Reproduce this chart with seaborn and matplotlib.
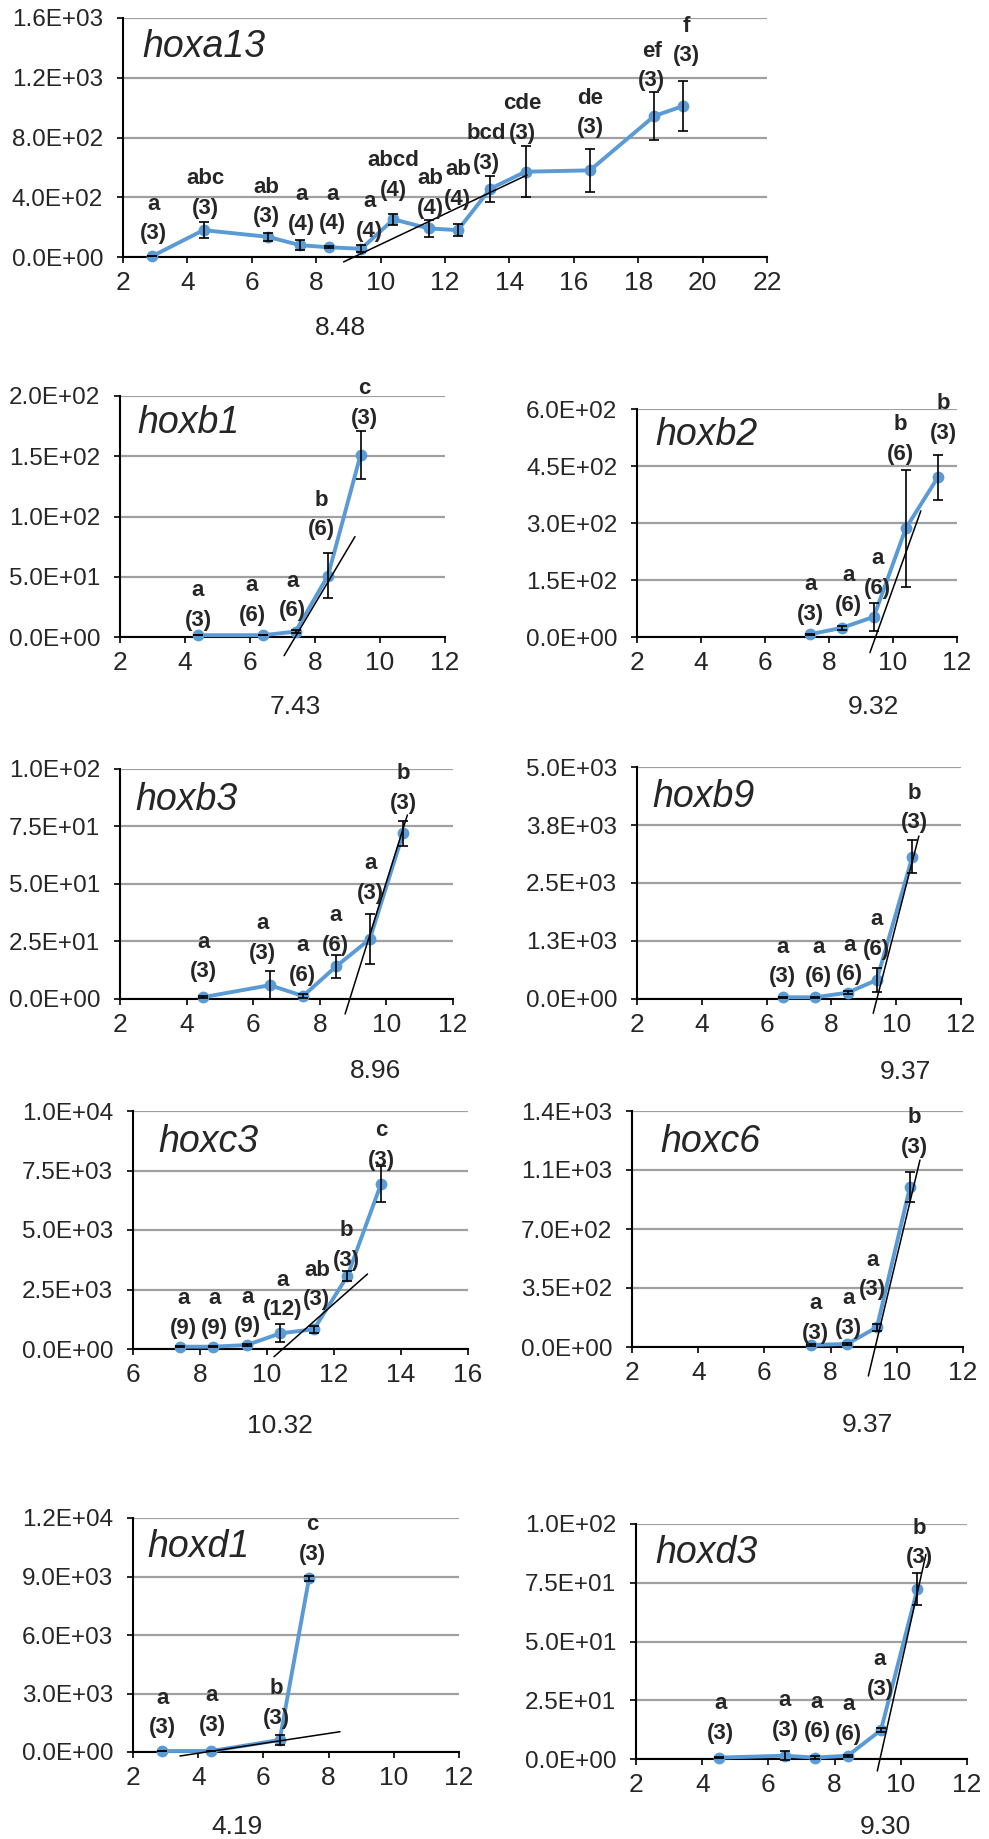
import numpy as np
import pandas as pd
import matplotlib
matplotlib.use("Agg")
import matplotlib.pyplot as plt
import seaborn as sns

# ---------------- data ----------------
hoxa13_x = [2.9, 4.5, 6.5, 7.5, 8.4, 9.4, 10.4, 11.5, 12.4, 13.4, 14.5, 16.5, 18.5, 19.4]
hoxa13_y = [5, 180, 135, 79, 65, 55, 252, 191, 180, 456, 571, 580, 944, 1011]
hoxa13_err = [0, 51, 25, 33, 8, 22, 39, 56, 42, 86, 171, 143, 161, 166]
hoxa13_let = ["a", "abc", "ab", "a", "a", "a", "abcd", "ab", "ab", "bcd", "cde", "de", "ef", "f"]
hoxa13_n = ["(3)", "(3)", "(3)", "(4)", "(4)", "(4)", "(4)", "(4)", "(4)", "(3)", "(3)", "(3)", "(3)", "(3)"]
hoxa13_tan_x = [8.85, 14.55]
hoxa13_tan_y = [-33, 549]
hoxa13_onset = 8.48

hoxb1_x = [4.4, 6.4, 7.4, 8.4, 9.4]
hoxb1_y = [1.5, 1.5, 4.5, 51, 151]
hoxb1_err = [0, 0, 1.5, 19, 20]
hoxb1_let = ["a", "a", "a", "b", "c"]
hoxb1_n = ["(3)", "(6)", "(6)", "(6)", "(3)"]
hoxb1_tan_x = [7.05, 9.23]
hoxb1_tan_y = [-15.5, 83.3]
hoxb1_onset = 7.43

hoxb2_x = [7.4, 8.4, 9.4, 10.4, 11.4]
hoxb2_y = [7, 24, 53, 286, 420]
hoxb2_err = [2, 6, 37, 154, 59]
hoxb2_let = ["a", "a", "a", "b", "b"]
hoxb2_n = ["(3)", "(6)", "(6)", "(6)", "(3)"]
hoxb2_tan_x = [9.28, 10.87]
hoxb2_tan_y = [-41, 332]
hoxb2_onset = 9.32

hoxb3_x = [4.5, 6.5, 7.5, 8.5, 9.5, 10.5]
hoxb3_y = [0.8, 6, 1.3, 14.3, 26, 72]
hoxb3_err = [0.3, 6, 1, 5, 11, 5.5]
hoxb3_let = ["a", "a", "a", "a", "a", "b"]
hoxb3_n = ["(3)", "(3)", "(6)", "(6)", "(3)", "(3)"]
hoxb3_tan_x = [8.76, 10.63]
hoxb3_tan_y = [-6.5, 80]
hoxb3_onset = 8.96

hoxb9_x = [6.5, 7.5, 8.5, 9.4, 10.5]
hoxb9_y = [37, 37, 136, 410, 3067]
hoxb9_err = [10, 10, 30, 250, 350]
hoxb9_let = ["a", "a", "a", "a", "b"]
hoxb9_n = ["(3)", "(6)", "(6)", "(6)", "(3)"]
hoxb9_tan_x = [9.29, 10.7]
hoxb9_tan_y = [-308, 3513]
hoxb9_onset = 9.37

hoxc3_x = [7.4, 8.4, 9.4, 10.4, 11.4, 12.4, 13.4]
hoxc3_y = [97, 97, 168, 660, 828, 3067, 6920]
hoxc3_err = [30, 30, 50, 380, 150, 200, 750]
hoxc3_let = ["a", "a", "a", "a", "ab", "b", "c"]
hoxc3_n = ["(9)", "(9)", "(9)", "(12)", "(3)", "(3)", "(3)"]
hoxc3_tan_x = [10.21, 13.0]
hoxc3_tan_y = [-323, 3151]
hoxc3_onset = 10.32

hoxc6_x = [7.4, 8.5, 9.4, 10.4]
hoxc6_y = [12, 18, 117, 951]
hoxc6_err = [5, 5, 20, 90]
hoxc6_let = ["a", "a", "a", "b"]
hoxc6_n = ["(3)", "(3)", "(3)", "(3)"]
hoxc6_tan_x = [9.14, 10.7]
hoxc6_tan_y = [-172, 1109]
hoxc6_onset = 9.37

hoxd1_x = [2.9, 4.4, 6.5, 7.4]
hoxd1_y = [51, 51, 615, 8900]
hoxd1_err = [20, 20, 250, 150]
hoxd1_let = ["a", "a", "b", "c"]
hoxd1_n = ["(3)", "(3)", "(3)", "(3)"]
hoxd1_tan_x = [3.44, 8.35]
hoxd1_tan_y = [-205, 1041]
hoxd1_onset = 4.19

hoxd3_x = [4.5, 6.5, 7.4, 8.4, 9.4, 10.5]
hoxd3_y = [0.6, 1.4, 0.6, 1.4, 12.3, 72.3]
hoxd3_err = [0.3, 2, 0.5, 0.5, 0.8, 6.8]
hoxd3_let = ["a", "a", "a", "a", "a", "b"]
hoxd3_n = ["(3)", "(3)", "(6)", "(6)", "(3)", "(3)"]
hoxd3_tan_x = [9.29, 10.76]
hoxd3_tan_y = [-5.1, 87.1]
hoxd3_onset = 9.30

# tick values / labels
xt_2_22 = [2, 4, 6, 8, 10, 12, 14, 16, 18, 20, 22]
xt_2_12 = [2, 4, 6, 8, 10, 12]
xt_6_16 = [6, 8, 10, 12, 14, 16]
yt_hoxa13 = [0, 400, 800, 1200, 1600]
yl_hoxa13 = ["0.0E+00", "4.0E+02", "8.0E+02", "1.2E+03", "1.6E+03"]
yt_hoxb1 = [0, 50, 100, 150, 200]
yl_hoxb1 = ["0.0E+00", "5.0E+01", "1.0E+02", "1.5E+02", "2.0E+02"]
yt_hoxb2 = [0, 150, 300, 450, 600]
yl_hoxb2 = ["0.0E+00", "1.5E+02", "3.0E+02", "4.5E+02", "6.0E+02"]
yt_hoxb3 = [0, 25, 50, 75, 100]
yl_hoxb3 = ["0.0E+00", "2.5E+01", "5.0E+01", "7.5E+01", "1.0E+02"]
yt_hoxb9 = [0, 1250, 2500, 3750, 5000]
yl_hoxb9 = ["0.0E+00", "1.3E+03", "2.5E+03", "3.8E+03", "5.0E+03"]
yt_hoxc3 = [0, 2500, 5000, 7500, 10000]
yl_hoxc3 = ["0.0E+00", "2.5E+03", "5.0E+03", "7.5E+03", "1.0E+04"]
yt_hoxc6 = [0, 350, 700, 1050, 1400]
yl_hoxc6 = ["0.0E+00", "3.5E+02", "7.0E+02", "1.1E+03", "1.4E+03"]
yt_hoxd1 = [0, 3000, 6000, 9000, 12000]
yl_hoxd1 = ["0.0E+00", "3.0E+03", "6.0E+03", "9.0E+03", "1.2E+04"]
yt_hoxd3 = [0, 25, 50, 75, 100]
yl_hoxd3 = ["0.0E+00", "2.5E+01", "5.0E+01", "7.5E+01", "1.0E+02"]

# ---------------- layout (pixels) ----------------
W, H = 989, 1839
layout = {
    # box: left, right, top, bottom (px); title offset; onset label x(data), dy; label offsets
    "hoxa13": dict(box=(123, 767, 18, 257), title=(19, 29), onset=(8.74, 71),
                   offs=[(1.6, 22.7), (1.6, 21.7), (-1.7, 20), (1.6, 21), (3.4, 23.3), (8.3, 17.3), (0, 29.3),
                         (1.7, 20), (0, 31), (-3.5, 25.7), (-2.7, 38.7), (0.6, 42.4), (-2.4, 35), (3.3, 50)]),
    "hoxb1": dict(box=(120, 445, 396, 637), title=(17, 27), onset=(7.38, 70),
                  offs=[(0, 15), (-11, 20), (-2.7, 21), (-6.6, 46), (4.3, 37)]),
    "hoxb2": dict(box=(637, 957, 409, 637), title=(18, 26), onset=(9.4, 70),
                  offs=[(1, 20), (6.3, 22.7), (3.4, 28.4), (-5, 74), (5.6, 44)]),
    "hoxb3": dict(box=(120, 453, 769, 999), title=(15, 31), onset=(9.66, 72),
                  offs=[(0, 25.6), (-7.3, 31.7), (-0.6, 21), (-1, 21), (0.7, 45.7), (0, 30)]),
    "hoxb9": dict(box=(637, 961, 767, 999), title=(15, 30), onset=(10.27, 73),
                  offs=[(-0.7, 20.6), (3, 20.6), (1.7, 17.7), (0, 30.7), (1.6, 34)]),
    "hoxc3": dict(box=(133, 468, 1111, 1349), title=(25, 31), onset=(10.39, 77),
                  offs=[(4, 18.4), (1.2, 18.4), (1, 18.3), (2.3, 23.3), (3, 29.3), (-1, 16), (0.6, 24.3)]),
    "hoxc6": dict(box=(632, 963, 1111, 1347), title=(28, 31), onset=(9.1, 78),
                  offs=[(5, 11.7), (1.3, 15.7), (-4.4, 37.3), (4, 39.4)]),
    "hoxd1": dict(box=(133, 459, 1518, 1752), title=(14, 29), onset=(5.19, 75),
                  offs=[(0, 23.3), (0.7, 26), (-3.3, 21.7), (3.3, 24)]),
    "hoxd3": dict(box=(636, 967, 1524, 1759), title=(19, 29), onset=(9.52, 68),
                  offs=[(1.6, 24.4), (0, 25.7), (2.3, 26), (0.7, 21.4), (-1, 41), (1.7, 31.3)]),
}

panels = [
    ("hoxa13", hoxa13_x, hoxa13_y, hoxa13_err, hoxa13_let, hoxa13_n, hoxa13_tan_x, hoxa13_tan_y, hoxa13_onset, xt_2_22, yt_hoxa13, yl_hoxa13),
    ("hoxb1", hoxb1_x, hoxb1_y, hoxb1_err, hoxb1_let, hoxb1_n, hoxb1_tan_x, hoxb1_tan_y, hoxb1_onset, xt_2_12, yt_hoxb1, yl_hoxb1),
    ("hoxb2", hoxb2_x, hoxb2_y, hoxb2_err, hoxb2_let, hoxb2_n, hoxb2_tan_x, hoxb2_tan_y, hoxb2_onset, xt_2_12, yt_hoxb2, yl_hoxb2),
    ("hoxb3", hoxb3_x, hoxb3_y, hoxb3_err, hoxb3_let, hoxb3_n, hoxb3_tan_x, hoxb3_tan_y, hoxb3_onset, xt_2_12, yt_hoxb3, yl_hoxb3),
    ("hoxb9", hoxb9_x, hoxb9_y, hoxb9_err, hoxb9_let, hoxb9_n, hoxb9_tan_x, hoxb9_tan_y, hoxb9_onset, xt_2_12, yt_hoxb9, yl_hoxb9),
    ("hoxc3", hoxc3_x, hoxc3_y, hoxc3_err, hoxc3_let, hoxc3_n, hoxc3_tan_x, hoxc3_tan_y, hoxc3_onset, xt_6_16, yt_hoxc3, yl_hoxc3),
    ("hoxc6", hoxc6_x, hoxc6_y, hoxc6_err, hoxc6_let, hoxc6_n, hoxc6_tan_x, hoxc6_tan_y, hoxc6_onset, xt_2_12, yt_hoxc6, yl_hoxc6),
    ("hoxd1", hoxd1_x, hoxd1_y, hoxd1_err, hoxd1_let, hoxd1_n, hoxd1_tan_x, hoxd1_tan_y, hoxd1_onset, xt_2_12, yt_hoxd1, yl_hoxd1),
    ("hoxd3", hoxd3_x, hoxd3_y, hoxd3_err, hoxd3_let, hoxd3_n, hoxd3_tan_x, hoxd3_tan_y, hoxd3_onset, xt_2_12, yt_hoxd3, yl_hoxd3),
]

sns.set_style("white")
plt.rcParams['font.family'] = ['Liberation Sans', 'DejaVu Sans']

BLUE = '#5B9BD5'
GRID = '#A0A0A0'
LETTER_GAP = 29.5

fig = plt.figure(figsize=(W / 100, H / 100), dpi=100)

for name, x, y, err, lets, ns, tx, ty, onset, xt, yt, yl in panels:
    lay = layout[name]
    L, R, T, B = lay["box"]
    ax = fig.add_axes([L / W, 1 - B / H, (R - L) / W, (B - T) / H])
    df = pd.DataFrame({"stage": x, "expr": y})
    sns.lineplot(data=df, x="stage", y="expr", ax=ax, color=BLUE, lw=2.8,
                 marker="o", markersize=8.5, markeredgewidth=0, zorder=4,
                 clip_on=False, errorbar=None)
    ax.errorbar(x, y, yerr=err, fmt="none", ecolor="black", elinewidth=1.2,
                capsize=3.8, capthick=1.2, zorder=5, clip_on=False)
    ax.plot(tx, ty, color="black", lw=1.1, zorder=6, clip_on=False)

    ax.set_xlim(xt[0], xt[-1])
    ax.set_ylim(yt[0], yt[-1])
    ax.set_xticks(xt)
    ax.set_xticklabels([str(v) for v in xt])
    ax.set_yticks(yt)
    ax.set_yticklabels(yl)
    ax.set_xlabel("")
    ax.set_ylabel("")
    for s in ("top", "right"):
        ax.spines[s].set_visible(False)
    for s in ("left", "bottom"):
        ax.spines[s].set_color("black")
        ax.spines[s].set_linewidth(1.5)
        ax.spines[s].set_zorder(3)
    ax.yaxis.grid(True, color=GRID, lw=1.6)
    ax.xaxis.grid(False)
    ax.set_axisbelow(True)
    ax.tick_params(axis="both", which="major", bottom=True, left=True, direction="out",
                   length=4.3, width=1.2, color="black")
    ax.tick_params(axis="y", labelsize=17.5, pad=10)
    ax.tick_params(axis="x", labelsize=19, pad=6)

    # gene name
    tdx, tdy = lay["title"]
    ax.annotate(name, xy=(0, 1), xycoords="axes fraction", xytext=(tdx, -tdy),
                textcoords="offset pixels", ha="left", va="center",
                fontsize=27, style="italic")

    # onset value below axis
    ox, ody = lay["onset"]
    ax.annotate(f"{onset:.2f}", xy=(ox, 0), xycoords=("data", "axes fraction"),
                xytext=(0, -ody), textcoords="offset pixels", ha="center", va="center",
                fontsize=19, annotation_clip=False)

    # significance letters and sample sizes
    for xi, yi, li, ni, (dx, dy) in zip(x, y, lets, ns, lay["offs"]):
        ax.annotate(ni, xy=(xi, yi), xytext=(dx, dy), textcoords="offset pixels",
                    ha="center", va="center", fontsize=16, fontweight="bold",
                    annotation_clip=False, zorder=7)
        ax.annotate(li, xy=(xi, yi), xytext=(dx, dy + LETTER_GAP), textcoords="offset pixels",
                    ha="center", va="center", fontsize=16, fontweight="bold",
                    annotation_clip=False, zorder=7)

fig.savefig("out.png", dpi=100)
